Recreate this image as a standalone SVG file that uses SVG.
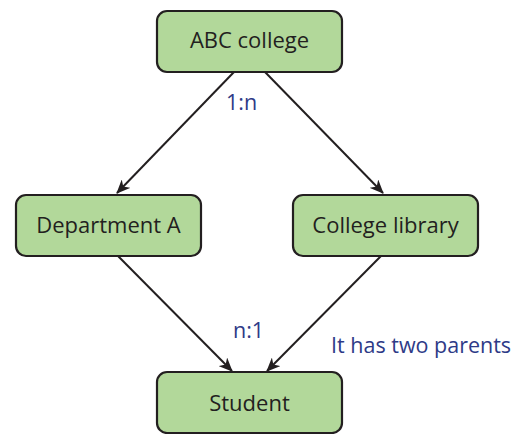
<svg xmlns="http://www.w3.org/2000/svg" width="521" height="434" viewBox="0 0 521 434">
<style>
.box{fill:#b2d89a;stroke:#231f20;stroke-width:2.2}
.t{font-family:"Open Sans",sans-serif;font-size:22px;fill:#231f20;text-anchor:middle}
.lbl{font-family:"Open Sans",sans-serif;font-size:21.5px;fill:#2e3a87}
.c{stroke:#231f20;stroke-width:2;fill:none;marker-end:url(#ah)}
</style>
<defs>
<marker id="ah" viewBox="0 0 14 12" refX="13" refY="6" markerWidth="14" markerHeight="12" markerUnits="userSpaceOnUse" orient="auto">
<path d="M0,0 L14,6 L0,12 L4,6 Z" fill="#231f20"/>
</marker>
</defs>
<g id="connectors">
<line class="c" x1="234" y1="72" x2="117" y2="193"/>
<line class="c" x1="265" y1="72" x2="383" y2="193"/>
<line class="c" x1="118" y1="256" x2="232" y2="371"/>
<line class="c" x1="381" y1="256" x2="267" y2="371"/>
</g>
<g id="abc">
<rect class="box" x="157" y="11" width="185" height="61" rx="10"/>
<text class="t" x="249.5" y="48">ABC college</text>
</g>
<g id="dept">
<rect class="box" x="16" y="195" width="185" height="61" rx="10"/>
<text class="t" x="108.5" y="233">Department A</text>
</g>
<g id="library">
<rect class="box" x="293" y="195" width="185" height="61" rx="10"/>
<text class="t" x="385.5" y="233">College library</text>
</g>
<g id="student">
<rect class="box" x="157" y="372" width="185" height="61" rx="10"/>
<text class="t" x="249.5" y="411">Student</text>
</g>
<g id="labels">
<text class="lbl" x="226" y="110">1:n</text>
<text class="lbl" x="233" y="338">n:1</text>
<text class="lbl" x="331" y="353">It has two parents</text>
</g>
</svg>
